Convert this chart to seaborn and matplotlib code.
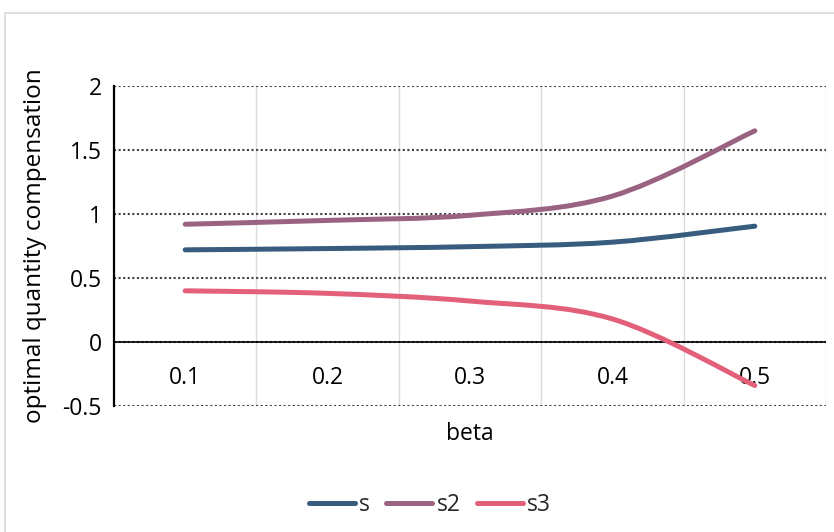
import numpy as np
import pandas as pd
import matplotlib.pyplot as plt
import seaborn as sns
from matplotlib.path import Path
from matplotlib.patches import PathPatch, Rectangle

# data
beta = ["0.1", "0.2", "0.3", "0.4", "0.5"]
s = [0.72, 0.73, 0.745, 0.78, 0.905]
s2 = [0.92, 0.95, 0.99, 1.14, 1.65]
s3 = [0.40, 0.38, 0.32, 0.18, -0.34]

colors = {"s": "#375C7E", "s2": "#9A6382", "s3": "#E2607A"}

df = pd.DataFrame({
    "pos": list(range(len(beta))) * 3,
    "value": s + s2 + s3,
    "series": ["s"] * 5 + ["s2"] * 5 + ["s3"] * 5,
})

sns.set_theme(style="white")
plt.rcParams["font.family"] = ["Open Sans", "DejaVu Sans"]
fs = 16.5
lw = 3.6

fig = plt.figure(figsize=(8.34, 5.32), dpi=100)
ax = fig.add_axes([114 / 834, 1 - 406 / 532, 712 / 834, 320 / 532])

sns.lineplot(data=df, x="pos", y="value", hue="series", palette=colors,
             linewidth=lw, ax=ax)


# excel style smoothed line: bezier through the data points
def smooth_path(x, y):
    pts = np.column_stack([x, y])
    n = len(pts)
    verts = [pts[0]]
    codes = [Path.MOVETO]
    for i in range(n - 1):
        p0 = pts[max(i - 1, 0)]
        p1 = pts[i]
        p2 = pts[i + 1]
        p3 = pts[min(i + 2, n - 1)]
        verts += [p1 + (p2 - p0) / 6, p2 - (p3 - p1) / 6, p2]
        codes += [Path.CURVE4] * 3
    return Path(verts, codes)


for line in list(ax.lines):
    xd, yd = np.asarray(line.get_xdata()), np.asarray(line.get_ydata())
    if len(xd) < 2:
        continue
    patch = PathPatch(smooth_path(xd, yd), facecolor="none",
                      edgecolor=line.get_color(), lw=lw,
                      capstyle="round", joinstyle="round", zorder=3)
    ax.add_patch(patch)
    line.set_visible(False)

ax.set_xlim(-0.5, 4.5)
ax.set_ylim(-0.5, 2)
ax.set_yticks([-0.5, 0, 0.5, 1, 1.5, 2])
ax.set_yticklabels(["-0.5", "0", "0.5", "1", "1.5", "2"])
ax.set_xticks(range(len(beta)))
ax.set_xticklabels(beta)
ax.set_xticks([0.5, 1.5, 2.5, 3.5, 4.5], minor=True)

ax.yaxis.grid(True, linestyle=(0, (1, 1.2)), color="#404040", lw=1.5)
ax.xaxis.grid(True, which="minor", color="#dcdcdc", lw=1)
ax.xaxis.grid(False, which="major")
ax.axhline(0, color="black", lw=1.2, zorder=2)

for side in ["top", "right", "bottom"]:
    ax.spines[side].set_visible(False)
ax.spines["left"].set_color("black")
ax.spines["left"].set_linewidth(1.6)

ax.tick_params(axis="x", which="both", length=0, pad=-29, labelsize=fs,
               colors="black")
ax.tick_params(axis="y", length=0, pad=9, labelsize=fs, colors="black")

ax.set_xlabel("beta", fontsize=fs, color="black")
ax.set_ylabel("optimal quantity compensation", fontsize=17.5, color="black")
ax.xaxis.set_label_coords(0.5, -0.05)
ax.yaxis.set_label_coords(-0.094, 0.5)

sns.move_legend(ax, "center", bbox_to_anchor=(430 / 834, 1 - 505 / 532),
                bbox_transform=fig.transFigure, ncol=3, title=None,
                frameon=False, fontsize=fs, handlelength=2.0,
                handletextpad=0.2, columnspacing=0.7)
for h in ax.get_legend().get_lines():
    h.set_linewidth(lw)

fig.patches.append(Rectangle((5 / 834, -0.01), 1.0, 1 - 13 / 532 + 0.01,
                             transform=fig.transFigure, fill=False,
                             edgecolor="#d9d9d9", lw=1.2))

fig.savefig("out.png", dpi=100)
